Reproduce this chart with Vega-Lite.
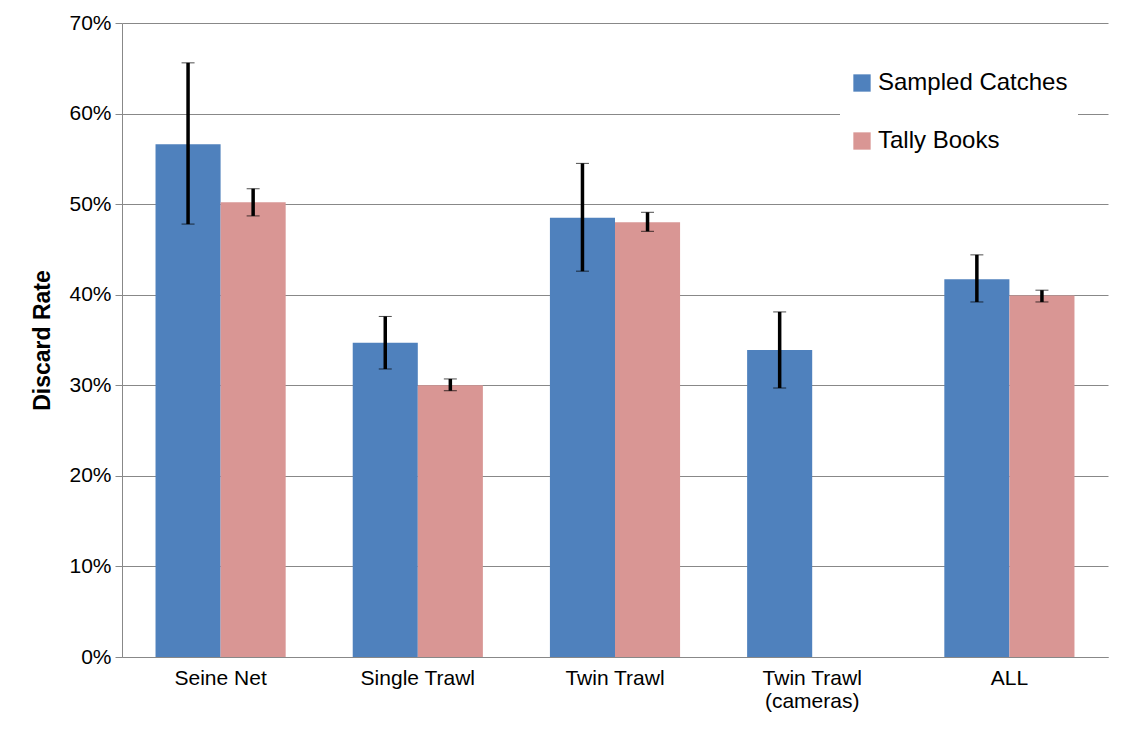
{
  "$schema": "https://vega.github.io/schema/vega-lite/v6.json",
  "width": 986,
  "height": 634,
  "padding": {"left": 31, "top": 12, "right": 10, "bottom": 5},
  "autosize": "pad",
  "data": {
    "values": [
      {"gear": "Seine Net", "source": "Sampled Catches", "rate": 0.566, "lo": 0.478, "hi": 0.656},
      {"gear": "Seine Net", "source": "Tally Books", "rate": 0.502, "lo": 0.487, "hi": 0.517},
      {"gear": "Single Trawl", "source": "Sampled Catches", "rate": 0.347, "lo": 0.318, "hi": 0.376},
      {"gear": "Single Trawl", "source": "Tally Books", "rate": 0.300, "lo": 0.294, "hi": 0.307},
      {"gear": "Twin Trawl", "source": "Sampled Catches", "rate": 0.485, "lo": 0.426, "hi": 0.545},
      {"gear": "Twin Trawl", "source": "Tally Books", "rate": 0.480, "lo": 0.470, "hi": 0.491},
      {"gear": "Twin Trawl (cameras)", "source": "Sampled Catches", "rate": 0.339, "lo": 0.297, "hi": 0.381},
      {"gear": "ALL", "source": "Sampled Catches", "rate": 0.417, "lo": 0.392, "hi": 0.444},
      {"gear": "ALL", "source": "Tally Books", "rate": 0.399, "lo": 0.392, "hi": 0.405}
    ]
  },
  "encoding": {
    "x": {
      "field": "gear", "type": "nominal", "title": null,
      "sort": ["Seine Net", "Single Trawl", "Twin Trawl", "Twin Trawl (cameras)", "ALL"],
      "scale": {"paddingInner": 0.34, "paddingOuter": 0.17},
      "axis": {
        "labelAngle": 0, "grid": false, "ticks": false, "labelPadding": 10,
        "labelExpr": "datum.value == 'Twin Trawl (cameras)' ? ['Twin Trawl', '(cameras)'] : datum.value"
      }
    },
    "xOffset": {"field": "source", "type": "nominal", "scale": {"domain": ["Sampled Catches", "Tally Books"]}}
  },
  "layer": [
    {
      "mark": {"type": "bar"},
      "encoding": {
        "y": {
          "field": "rate", "type": "quantitative", "title": "Discard Rate",
          "scale": {"domain": [0, 0.7]},
          "axis": {"format": ".0%", "values": [0, 0.1, 0.2, 0.3, 0.4, 0.5, 0.6, 0.7]}
        },
        "color": {
          "field": "source", "type": "nominal", "title": null,
          "scale": {"domain": ["Sampled Catches", "Tally Books"], "range": ["#4F81BD", "#D99694"]},
          "legend": {
            "orient": "none", "legendX": 718, "legendY": 38, "labelFontSize": 24, "labelFont": "Liberation Sans", "labelColor": "#000",
            "labelLimit": 400, "symbolType": "square", "symbolSize": 300, "rowPadding": 34, "fillColor": "white",
            "padding": 10
          }
        }
      }
    },
    {
      "mark": {"type": "errorbar", "ticks": {"size": 13, "color": "#000", "strokeWidth": 3.5}, "rule": {"strokeWidth": 3.5, "color": "#000"}},
      "encoding": {
        "y": {"field": "lo", "type": "quantitative", "title": "Discard Rate",
          "axis": {"format": ".0%", "values": [0, 0.1, 0.2, 0.3, 0.4, 0.5, 0.6, 0.7]}},
        "y2": {"field": "hi"}
      }
    }
  ],
  "config": {
    "view": {"stroke": null},
    "axis": {
      "labelFontSize": 21, "labelColor": "#000", "labelFont": "Liberation Sans",
      "titleFontSize": 23, "titleFont": "Liberation Sans", "titleFontWeight": "bold", "titleColor": "#000",
      "gridColor": "#888", "domainColor": "#888", "tickColor": "#888", "tickSize": 7
    },
    "axisY": {"titlePadding": 14, "labelPadding": 4}
  }
}
